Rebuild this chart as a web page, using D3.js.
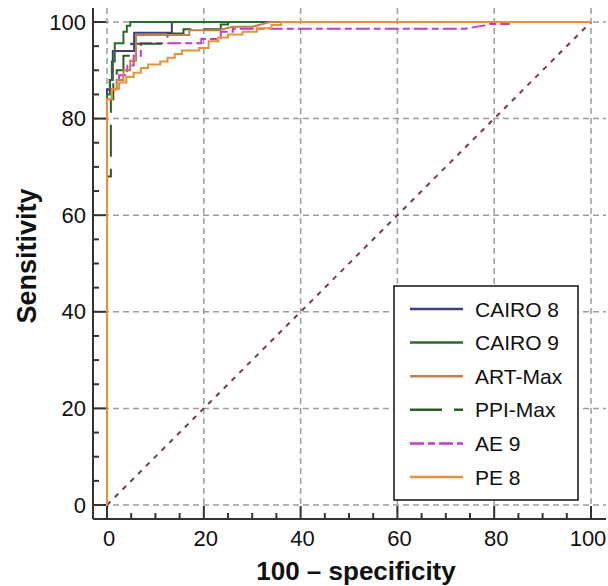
<!DOCTYPE html>
<html>
<head>
<meta charset="utf-8">
<script src="https://cdn.jsdelivr.net/npm/d3@7"></script>
<style>
  body { margin: 0; background: #fff; }
  svg { font-family: "Liberation Sans", Arial, sans-serif; }
</style>
</head>
<body>
<svg id="roc" width="608" height="586"></svg>
<script>
// ROC curves, points are [100 - specificity, sensitivity]
const seriesNames = ["CAIRO 8", "CAIRO 9", "ART-Max", "PPI-Max", "AE 9", "PE 8"];

const cairo8 = [[0,0],[0,86],[0.6,86],[0.6,88],[1.2,88],[1.2,94],[5.6,94],[5.6,97.8],[13.4,97.8],[13.4,100],[100,100]];
const cairo9 = [[0,0],[0,85],[0.6,85],[0.6,88],[1,88],[1,91.8],[1.6,91.8],[1.6,95.6],[3.4,95.6],[3.4,98],[4.1,98],[4.1,99.2],[4.8,99.2],[4.8,100],[100,100]];
const artMax = [[0,0],[0,84],[1,84],[1,86],[2,86],[2,88],[3.4,88],[3.4,90],[4.8,90],[4.8,92],[6,92],[6,97.3],[17,97.3],[17,98.3],[23,98.3],[26,99],[30,99],[33.7,100],[100,100]];
const ppiMax = [[0,0],[0,68],[0.8,68],[0.8,84],[1.3,84],[1.3,88],[2,88],[2,90],[3.4,90],[3.4,93],[5,93],[5,95.5],[12.5,95.5],[12.5,97.6],[15.8,97.6],[15.8,98.5],[23.5,98.5],[23.5,99.5],[25,99.5],[25,100],[100,100]];
const ae9 = [[0,0],[0,86],[0.6,86],[0.6,88],[2.5,88],[2.5,89],[4.2,89],[4.2,91],[5.5,91],[5.5,93],[7,93],[7,95.6],[19.5,95.6],[19.5,96.5],[23.5,96.5],[23.5,98],[26,98],[26,98.6],[74,98.6],[78,99.3],[79,99.6],[83,99.6],[83,100],[100,100]];
const pe8 = [[0,0],[0,84],[1,84],[1,86.2],[2.5,86.2],[2.5,87.5],[4,87.5],[4,88.6],[5.5,88.6],[5.5,89.5],[7,89.5],[7,90.5],[8.5,90.5],[8.5,91.2],[11,91.2],[11,91.8],[12.5,91.8],[12.5,92.6],[14,92.6],[14,93.4],[15.5,93.4],[15.5,94.1],[19,94.1],[19,94.6],[21,94.6],[21,96],[23,96],[23,96.8],[25,96.8],[25,97.4],[28,97.4],[28,98],[31,98],[31,98.7],[34,98.7],[34,99.4],[36,99.4],[36,100],[100,100]];

const diagonal = [[0,0],[100,100]];
const majorTicks = [0, 20, 40, 60, 80, 100];
const minorTicks = d3.range(0, 101, 5);

const svg = d3.select("#roc");

const x = d3.scaleLinear().domain([0, 100]).range([107, 591]);
const y = d3.scaleLinear().domain([0, 100]).range([505, 22]);

const axisLeftX = 93, axisBottomY = 519;

// dashed grid
const grid = svg.append("g").attr("stroke", "#9c9c9c").attr("stroke-width", 1.5).attr("stroke-dasharray", "6,4");
grid.selectAll("line.v").data(majorTicks).join("line")
    .attr("class", "v")
    .attr("x1", d => x(d)).attr("x2", d => x(d))
    .attr("y1", 8).attr("y2", axisBottomY);
grid.selectAll("line.h").data(majorTicks).join("line")
    .attr("class", "h")
    .attr("x1", axisLeftX).attr("x2", 606)
    .attr("y1", d => y(d)).attr("y2", d => y(d));

// axes lines + ticks
const ax = svg.append("g").attr("stroke", "#333").attr("stroke-width", 2);
ax.append("line").attr("x1", axisLeftX).attr("x2", axisLeftX).attr("y1", 8).attr("y2", axisBottomY);
ax.append("line").attr("x1", axisLeftX).attr("x2", 606).attr("y1", axisBottomY).attr("y2", axisBottomY);
ax.selectAll("line.ym").data(minorTicks).join("line")
    .attr("class", "ym")
    .attr("x1", axisLeftX).attr("x2", d => axisLeftX + (d % 20 === 0 ? 13 : 6))
    .attr("y1", d => y(d)).attr("y2", d => y(d));
ax.selectAll("line.xm").data(minorTicks).join("line")
    .attr("class", "xm")
    .attr("x1", d => x(d)).attr("x2", d => x(d))
    .attr("y1", axisBottomY).attr("y2", d => axisBottomY - (d % 20 === 0 ? 13 : 6));

// tick labels
svg.selectAll("text.yl").data(majorTicks).join("text")
    .attr("class", "yl")
    .attr("x", 86).attr("y", d => y(d))
    .attr("text-anchor", "end").attr("dominant-baseline", "central")
    .attr("font-size", 22).attr("fill", "#111")
    .text(d => d);
svg.selectAll("text.xl").data(majorTicks).join("text")
    .attr("class", "xl")
    .attr("x", d => Math.min(x(d) + 2, 588)).attr("y", 546)
    .attr("text-anchor", "middle")
    .attr("font-size", 22).attr("fill", "#111")
    .text(d => d);

// axis titles
svg.append("text")
    .attr("x", 356).attr("y", 580)
    .attr("text-anchor", "middle")
    .attr("font-size", 26).attr("font-weight", "bold").attr("fill", "#111")
    .text("100 \u2013 specificity");
svg.append("text")
    .attr("transform", "translate(36,256) rotate(-90)")
    .attr("text-anchor", "middle")
    .attr("font-size", 27).attr("font-weight", "bold").attr("fill", "#111")
    .text("Sensitivity");

const line = d3.line().x(d => x(d[0])).y(d => y(d[1]));

// reference diagonal
svg.append("path")
    .attr("d", line(diagonal))
    .attr("fill", "none").attr("stroke", "#6e3d52")
    .attr("stroke-width", 2).attr("stroke-dasharray", "5,6");

const styles = {
    "CAIRO 8": { data: cairo8, color: "#3d3f7c", dash: null },
    "CAIRO 9": { data: cairo9, color: "#286b2c", dash: null },
    "ART-Max": { data: artMax, color: "#c0804c", dash: null },
    "PPI-Max": { data: ppiMax, color: "#2a5c28", dash: "32,12" },
    "AE 9":    { data: ae9,    color: "#c43acb", dash: "14,4,7,4" },
    "PE 8":    { data: pe8,    color: "#e8913c", dash: null }
};

// draw order: orange on top
const drawOrder = ["AE 9", "PPI-Max", "CAIRO 8", "CAIRO 9", "ART-Max", "PE 8"];
drawOrder.forEach(name => {
    const s = styles[name];
    svg.append("path")
        .attr("d", line(s.data))
        .attr("fill", "none")
        .attr("stroke", s.color)
        .attr("stroke-width", 2)
        .attr("stroke-dasharray", s.dash);
});

// legend
const legend = svg.append("g");
legend.append("rect")
    .attr("x", 394).attr("y", 286).attr("width", 184).attr("height", 214)
    .attr("fill", "#fff").attr("stroke", "#111").attr("stroke-width", 1.5);
const rowY = i => 309 + i * 33.6;
seriesNames.forEach((name, i) => {
    const s = styles[name];
    legend.append("line")
        .attr("x1", 410).attr("x2", 463)
        .attr("y1", rowY(i)).attr("y2", rowY(i))
        .attr("stroke", s.color).attr("stroke-width", 2.5)
        .attr("stroke-dasharray", s.dash);
    legend.append("text")
        .attr("x", 475).attr("y", rowY(i))
        .attr("dominant-baseline", "central")
        .attr("font-size", 21).attr("fill", "#111")
        .text(name);
});
</script>
</body>
</html>
